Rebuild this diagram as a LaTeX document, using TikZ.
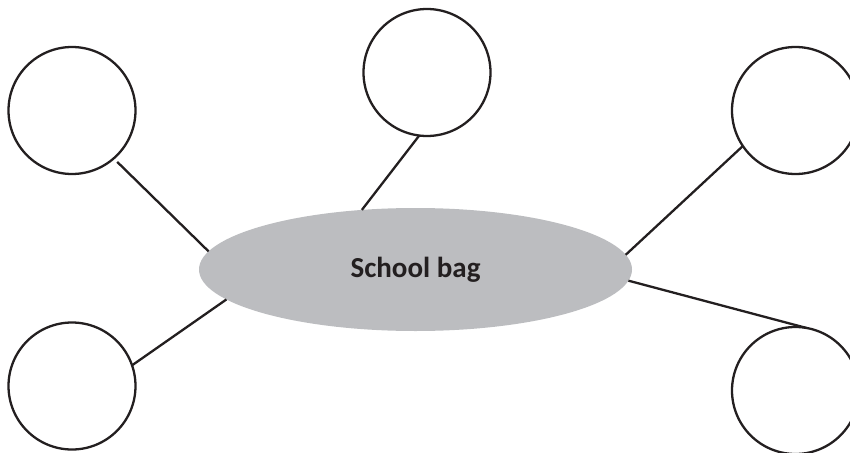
\documentclass[tikz,border=0pt]{standalone}
\usepackage{fontspec}
\setmainfont{Carlito}
\usetikzlibrary{shapes.geometric}
\definecolor{baggray}{RGB}{188,189,192}
\definecolor{inkline}{RGB}{35,31,32}
\begin{document}
\begin{tikzpicture}[x=1pt,y=-1pt,
	bubble/.style={draw=inkline, line width=2.3pt, circle, minimum size=127pt, inner sep=0pt, outer sep=0pt},
	spoke/.style={draw=inkline, line width=2.3pt}]
	\useasboundingbox (0,0) rectangle (850,452);

	\node[ellipse, fill=baggray, minimum width=433pt, minimum height=123pt, inner sep=0pt, outer sep=0pt,
		text=inkline, font=\fontsize{29}{30}\selectfont\bfseries] (bag) at (415.5,269.5) {School bag};

	\node[bubble] (topleft) at (72,110.5) {};
	\node[bubble] (topmid) at (427,72.5) {};
	\node[bubble] (topright) at (795.5,110.5) {};
	\node[bubble] (botleft) at (72,386) {};
	\node[bubble] (botright) at (795.5,390.5) {};

	\draw[spoke, shorten <=5pt] (topleft.-49) -- (bag.175.5);
	\draw[spoke] (topmid.-97) -- (bag.132.4);
	\draw[spoke] (topright.-146) -- (bag.4.7);
	\draw[spoke] (botleft.19) -- (bag.-171.4);
	\draw[spoke] (bag.-3.4) -- (botright.80);
\end{tikzpicture}
\end{document}
